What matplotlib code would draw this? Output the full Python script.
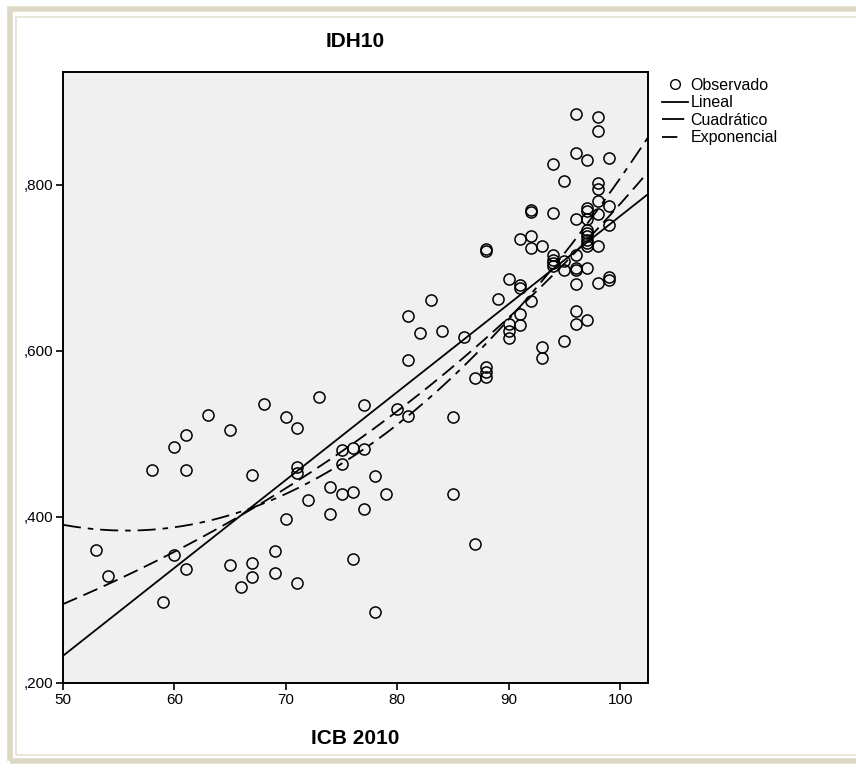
import numpy as np
import matplotlib
matplotlib.use("Agg")
import matplotlib.pyplot as plt
from matplotlib.lines import Line2D
from matplotlib.patches import Rectangle
from matplotlib.ticker import FuncFormatter

plt.rcParams['font.family'] = ['Liberation Sans Narrow', 'Liberation Sans', 'DejaVu Sans']
plt.rcParams['lines.scale_dashes'] = False

icb = [53, 54, 58, 59, 60, 60, 61, 61, 61, 63, 65, 65, 66, 67, 67, 67, 68, 69, 69,
       70, 70, 71, 71, 71, 71, 72, 73, 74, 74, 75, 75, 75, 76, 76, 76, 77, 77, 77,
       78, 78, 79, 80, 81, 81, 81, 82, 83, 84, 85, 85, 86, 87, 87,
       88, 88, 88, 88, 88, 89, 90, 90, 90, 90,
       91, 91, 91, 91, 91, 92, 92, 92, 92, 92, 93, 93, 93,
       94, 94, 94, 94, 94, 94, 95, 95, 95, 95,
       96, 96, 96, 96, 96, 96, 96, 96, 96,
       97, 97, 97, 97, 97, 97, 97, 97, 97, 97, 97, 97,
       98, 98, 98, 98, 98, 98, 98, 98, 99, 99, 99, 99, 99]
idh = [0.360, 0.329, 0.457, 0.297, 0.484, 0.354, 0.499, 0.457, 0.337, 0.523, 0.505, 0.342,
       0.316, 0.451, 0.345, 0.328, 0.536, 0.359, 0.332,
       0.520, 0.398, 0.507, 0.460, 0.453, 0.321, 0.421, 0.545, 0.436, 0.404, 0.481, 0.464, 0.428,
       0.483, 0.430, 0.349, 0.535, 0.482, 0.409,
       0.449, 0.286, 0.428, 0.530, 0.642, 0.589, 0.522, 0.622, 0.661, 0.624, 0.520, 0.428,
       0.617, 0.568, 0.367,
       0.723, 0.720, 0.581, 0.575, 0.569, 0.663, 0.687, 0.633, 0.624, 0.615,
       0.735, 0.679, 0.676, 0.645, 0.631, 0.770, 0.767, 0.738, 0.724, 0.660, 0.727, 0.605, 0.591,
       0.825, 0.766, 0.716, 0.710, 0.706, 0.702, 0.805, 0.708, 0.698, 0.612,
       0.886, 0.839, 0.759, 0.716, 0.700, 0.698, 0.681, 0.648, 0.632,
       0.830, 0.772, 0.769, 0.759, 0.746, 0.742, 0.738, 0.734, 0.730, 0.726, 0.700, 0.637,
       0.882, 0.865, 0.802, 0.795, 0.781, 0.765, 0.727, 0.682, 0.833, 0.774, 0.752, 0.689, 0.686]

x_ticks = [50, 60, 70, 80, 90, 100]
y_ticks = [0.2, 0.4, 0.6, 0.8]

x = np.array(icb, dtype=float)
y = np.array(idh)

# curve estimation fits
lin = np.polyfit(x, y, 1)
quad = np.polyfit(x, y, 2)
expo = np.polyfit(x, np.log(y), 1)

xs = np.linspace(50, 102.5, 300)

quad_dash = [13, 5, 4, 5]
exp_dash = [11, 5]

fig = plt.figure(figsize=(8.56, 7.69), dpi=100)
ax = fig.add_axes([63/856, 1 - 683/769, 585/856, 611/769])
ax.set_facecolor('#f0f0f0')

ax.plot(xs, np.polyval(lin, xs), color='black', lw=1.3)
ax.plot(xs, np.polyval(quad, xs), color='black', lw=1.3, dashes=quad_dash)
ax.plot(xs, np.exp(np.polyval(expo, xs)), color='black', lw=1.3, dashes=exp_dash)
ax.plot(x, y, 'o', mfc='none', mec='black', ms=8, mew=1.1)

ax.set_xlim(50, 102.5)
ax.set_ylim(0.2, 0.936)
ax.set_xticks(x_ticks)
ax.set_yticks(y_ticks)
ax.yaxis.set_major_formatter(FuncFormatter(lambda v, p: ',%03d' % round(v * 1000)))
ax.tick_params(direction='out', length=5, width=1.2, labelsize=11, pad=2)
for s in ax.spines.values():
    s.set_linewidth(1.4)

ax.set_title('IDH10', fontsize=15, fontweight='bold', pad=18)
ax.set_xlabel('ICB 2010', fontsize=15, fontweight='bold', labelpad=16)

handles = [Line2D([], [], ls='none', marker='o', mfc='none', mec='black', ms=7),
           Line2D([], [], color='black', lw=1.3),
           Line2D([], [], color='black', lw=1.3, dashes=[16, 4]),
           Line2D([], [], color='black', lw=1.3, dashes=[11, 8])]
fig.legend(handles, ['Observado', 'Lineal', 'Cuadrático', 'Exponencial'],
           loc='upper left', bbox_to_anchor=(654/856, 1 - 70/769), frameon=False,
           fontsize=11.5, handlelength=1.6, handletextpad=0.2, labelspacing=0.15,
           borderpad=0)

# beige frame around the output
fig.patches.append(Rectangle((10/856, 8/769), 900/856, 752/769, transform=fig.transFigure,
                             fill=False, ec='#dcd8c4', lw=4))
fig.patches.append(Rectangle((16/856, 14/769), 900/856, 738/769, transform=fig.transFigure,
                             fill=False, ec='#e4e1d2', lw=1.2))

fig.savefig('out.png', dpi=100)
